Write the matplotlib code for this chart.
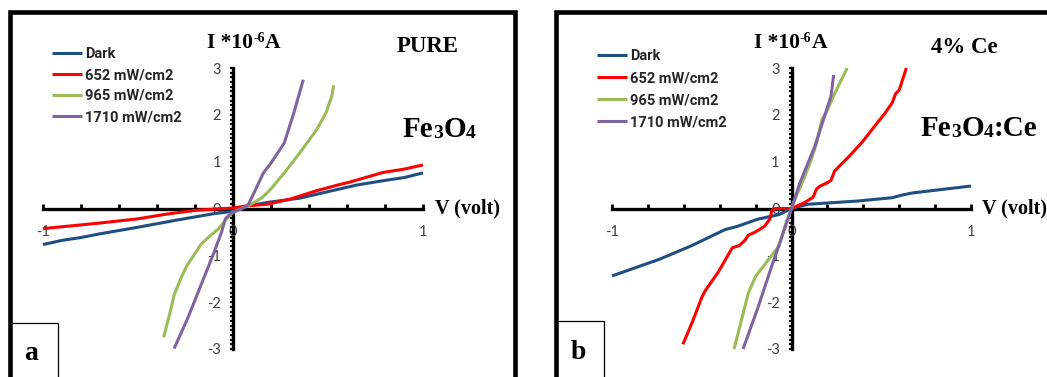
import numpy as np
import matplotlib
matplotlib.use("Agg")
import matplotlib.pyplot as plt
from matplotlib.lines import Line2D

# ---- data -------------------------------------------------------------
series_labels = ["Dark", "652 mW/cm2", "965 mW/cm2", "1710 mW/cm2"]
series_colors = ["#1F4E82", "#FF0000", "#9BBB59", "#8064A2"]

x_ticks = [-1, 0, 1]
y_ticks = [-3, -2, -1, 0, 1, 2, 3]

# (a) pure Fe3O4
pure_dark_v = [-1.0, -0.9, -0.8, -0.7, -0.5, -0.3, -0.1, 0.0, 0.08, 0.2, 0.35, 0.5, 0.65, 0.8, 0.9, 1.0]
pure_dark_i = [-0.77, -0.68, -0.62, -0.54, -0.40, -0.25, -0.11, -0.06, 0.06, 0.14, 0.22, 0.36, 0.50, 0.60, 0.66, 0.76]
pure_652_v = [-1.0, -0.85, -0.7, -0.5, -0.35, -0.2, -0.05, 0.0, 0.08, 0.18, 0.3, 0.44, 0.55, 0.62, 0.79, 0.9, 1.0]
pure_652_i = [-0.43, -0.37, -0.31, -0.22, -0.12, -0.04, 0.0, 0.01, 0.06, 0.09, 0.2, 0.38, 0.5, 0.57, 0.77, 0.84, 0.93]
pure_965_v = [-0.365, -0.33, -0.31, -0.27, -0.24, -0.19, -0.17, -0.12, -0.08, -0.04, 0.0, 0.08, 0.15, 0.2, 0.27, 0.35, 0.44, 0.49, 0.52, 0.53]
pure_965_i = [-2.75, -2.2, -1.85, -1.45, -1.2, -0.9, -0.77, -0.58, -0.45, -0.25, -0.08, 0.06, 0.22, 0.42, 0.76, 1.18, 1.68, 2.05, 2.4, 2.63]
pure_1710_v = [-0.31, -0.24, -0.17, -0.1, -0.06, -0.04, -0.02, 0.0, 0.05, 0.08, 0.11, 0.16, 0.2, 0.27, 0.32, 0.37]
pure_1710_i = [-2.99, -2.36, -1.65, -0.94, -0.5, -0.22, -0.14, -0.08, 0.0, 0.08, 0.33, 0.76, 0.97, 1.4, 2.04, 2.75]

# (b) Fe3O4:Ce (4% Ce)
ce_dark_v = [-1.0, -0.74, -0.56, -0.37, -0.3, -0.19, -0.07, 0.0, 0.09, 0.37, 0.56, 0.62, 0.67, 1.0]
ce_dark_i = [-1.44, -1.09, -0.80, -0.45, -0.38, -0.23, -0.13, 0.0, 0.09, 0.16, 0.23, 0.29, 0.33, 0.48]
ce_652_v = [-0.605, -0.55, -0.5, -0.48, -0.41, -0.33, -0.29, -0.26, -0.24, -0.2, -0.15, -0.12, -0.11, -0.09, 0.0,
            0.07, 0.12, 0.14, 0.16, 0.2, 0.22, 0.24, 0.32, 0.39, 0.47, 0.52, 0.56, 0.58, 0.6, 0.64]
ce_652_i = [-2.9, -2.4, -1.9, -1.75, -1.37, -0.84, -0.79, -0.68, -0.57, -0.5, -0.38, -0.22, -0.05, 0.0, 0.0,
            0.12, 0.24, 0.42, 0.48, 0.55, 0.6, 0.8, 1.11, 1.4, 1.79, 2.03, 2.25, 2.45, 2.53, 3.0]
ce_965_v = [-0.32, -0.28, -0.24, -0.2, -0.15, -0.07, -0.03, 0.0, 0.03, 0.06, 0.11, 0.14, 0.17, 0.2, 0.24, 0.31]
ce_965_i = [-3.0, -2.4, -1.8, -1.45, -1.2, -0.8, -0.3, 0.0, 0.3, 0.55, 1.04, 1.4, 1.9, 2.1, 2.45, 3.0]
ce_1710_v = [-0.27, -0.19, -0.11, -0.04, 0.0, 0.047, 0.09, 0.13, 0.19, 0.22, 0.235]
ce_1710_i = [-3.0, -2.15, -1.23, -0.45, 0.0, 0.55, 0.95, 1.33, 2.04, 2.4, 2.85]

# ---- figure -----------------------------------------------------------
W, H = 1047, 377
plt.rcParams["axes.unicode_minus"] = False

fig = plt.figure(figsize=(W / 100, H / 100), dpi=100)
renderer = fig.canvas.get_renderer()


def fx(x):
    return x / W


def fy(y):
    return 1 - y / H


SERIF = dict(family="Liberation Serif", fontweight="bold", color="black")
SANS = "Lato"


def rich_text(x_left, baseline, pieces):
    """Lay out pieces (text, size, raise_px) left to right on one baseline."""
    x = x_left
    for s, size, dy in pieces:
        t = fig.text(fx(x), fy(baseline - dy), s, ha="left", va="baseline",
                     fontsize=size, **SERIF)
        x += t.get_window_extent(renderer).width


def draw_panel(left_px, right_px, curves, legend_xy):
    ax = fig.add_axes([fx(left_px), fy(349), (right_px - left_px) / W, (349 - 68) / H])
    for (v, i), lab, col in zip(curves, series_labels, series_colors):
        ax.plot(v, i, color=col, lw=2.2, label=lab, clip_on=False,
                solid_capstyle="butt")
    ax.set_xlim(-1, 1)
    ax.set_ylim(-3, 3)
    ax.patch.set_visible(False)
    for s in ("top", "right"):
        ax.spines[s].set_visible(False)
    for s in ("left", "bottom"):
        ax.spines[s].set_position(("data", 0))
        ax.spines[s].set_linewidth(2.4)
        ax.spines[s].set_color("black")
        ax.spines[s].set_zorder(1)
    ax.set_xticks(x_ticks)
    ax.set_xticks(np.arange(-1, 1.01, 0.2), minor=True)
    ax.set_yticks(y_ticks)
    ax.set_yticks(np.arange(-3, 3.01, 0.1), minor=True)
    ax.set_xticklabels([str(t) for t in x_ticks])
    ax.set_yticklabels([str(t) for t in y_ticks])
    ax.tick_params(axis="x", which="both", direction="in", length=3.5, width=2.0,
                   pad=12, labelsize=10.5, labelcolor="#404040")
    ax.tick_params(axis="y", which="both", direction="out", length=2.5, width=1.6,
                   pad=6, labelsize=10.5, labelcolor="#404040")
    for lab in ax.get_xticklabels() + ax.get_yticklabels():
        lab.set_family(SANS)
    leg = ax.legend(loc="upper left", bbox_to_anchor=(fx(legend_xy[0]), fy(legend_xy[1])),
                    bbox_transform=fig.transFigure, frameon=False, handlelength=2.05,
                    handletextpad=0.2, labelspacing=legend_xy[2], borderpad=0, borderaxespad=0,
                    prop=dict(family="Roboto", size=10.5, weight="bold"))
    for t in leg.get_texts():
        t.set_color("#262626")
    return ax


ax_a = draw_panel(43, 423,
                  [(pure_dark_v, pure_dark_i), (pure_652_v, pure_652_i),
                   (pure_965_v, pure_965_i), (pure_1710_v, pure_1710_i)],
                  (52, 47, 0.48))
ax_b = draw_panel(612, 971,
                  [(ce_dark_v, ce_dark_i), (ce_652_v, ce_652_i),
                   (ce_965_v, ce_965_i), (ce_1710_v, ce_1710_i)],
                  (597, 49, 0.56))

# ---- annotations --------------------------------------------------------
current_label = [("I *10", 15.5, 0), ("-6", 10, 6), ("A", 15.5, 0)]
rich_text(207, 48, current_label)
rich_text(754, 48, current_label)

fig.text(fx(428), fy(52), "PURE", ha="center", va="baseline", fontsize=16.5, **SERIF)
fig.text(fx(964), fy(53), "4% Ce", ha="center", va="baseline", fontsize=16.5, **SERIF)

rich_text(403, 137, [("Fe", 21, 0), ("3", 14, -1), ("O", 21, 0), ("4", 14, -1)])
rich_text(921, 136, [("Fe", 21, 0), ("3", 14, -1), ("O", 21, 0), ("4", 14, -1), (":Ce", 21, 0)])

fig.text(fx(435), fy(213), "V (volt)", ha="left", va="baseline", fontsize=14.5, **SERIF)
fig.text(fx(982), fy(213), "V (volt)", ha="left", va="baseline", fontsize=14.5, **SERIF)

fig.text(fx(31), fy(360), "a", ha="center", va="baseline", fontsize=20, **SERIF)
fig.text(fx(578), fy(359), "b", ha="center", va="baseline", fontsize=20, **SERIF)

# ---- panel frames -----------------------------------------------------
def frame(xs, ys, lw):
    fig.add_artist(Line2D([fx(x) for x in xs], [fy(y) for y in ys], color="black",
                          lw=lw, solid_joinstyle="miter", solid_capstyle="butt"))


frame([9.5, 9.5, 514.5, 514.5], [390, 12, 12, 390], 3.3)
frame([555.5, 555.5, 1060], [390, 12, 12], 3.3)
frame([12, 58, 58], [323, 323, 390], 0.9)
frame([558, 604, 604], [321, 321, 390], 0.9)

fig.savefig("out.png", dpi=100)
